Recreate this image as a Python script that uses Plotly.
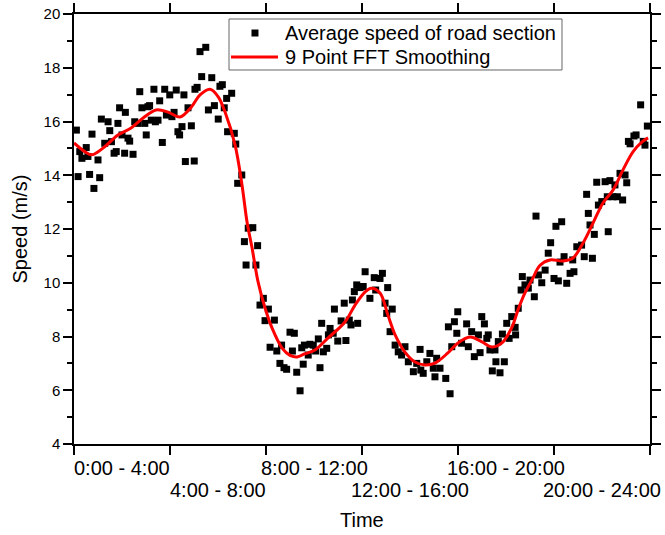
import plotly.graph_objects as go

# ---- data (hours of day, speed m/s) ----
hours = [0.1, 0.17, 0.24, 0.33, 0.51, 0.58, 0.65, 0.75, 0.83, 1.0, 1.07, 1.14, 1.28, 1.42, 1.49, 1.56,
         1.67, 1.76, 1.83, 1.9, 2.0, 2.11, 2.14, 2.25, 2.32, 2.46, 2.53, 2.67, 2.74, 2.83, 2.95, 3.01,
         3.08, 3.15, 3.22, 3.33, 3.39, 3.5, 3.57, 3.68, 3.78, 3.85, 3.99, 4.08, 4.17, 4.26, 4.33, 4.4,
         4.5, 4.58, 4.64, 4.75, 4.89,
         5.01, 5.04, 5.13, 5.25, 5.32, 5.49, 5.6, 5.74, 5.85, 6.01, 6.08, 6.18, 6.26, 6.36, 6.4, 6.57,
         6.68, 6.74, 6.82, 6.99, 7.1, 7.17, 7.26, 7.45, 7.58, 7.65, 7.75, 7.89, 7.96, 8.1, 8.17, 8.35,
         8.45, 8.58, 8.65, 8.75, 8.86, 9.0, 9.1, 9.18, 9.28, 9.42, 9.49, 9.55,
         9.6, 9.76, 9.83, 9.97, 10.07, 10.18, 10.25, 10.32, 10.39, 10.53, 10.6, 10.67, 10.8, 10.85,
         10.99, 11.13, 11.26, 11.33, 11.47, 11.54, 11.6, 11.68, 11.78, 11.82, 11.92, 12.05, 12.13,
         12.33, 12.51, 12.57, 12.75, 12.85, 12.96, 13.03, 13.07, 13.17, 13.26, 13.38, 13.51, 13.65,
         13.79, 13.93, 14.14,
         14.28, 14.42, 14.45, 14.55, 14.7, 14.83, 14.97, 15.04, 15.11, 15.25, 15.49, 15.6, 15.67,
         15.74, 15.85, 15.95, 15.99, 16.15, 16.36, 16.43, 16.57, 16.68, 16.85, 16.92, 16.99, 17.1,
         17.2, 17.26, 17.33, 17.43, 17.54, 17.58, 17.68, 17.75, 17.85, 17.93, 18.03, 18.13, 18.24,
         18.38, 18.4, 18.51, 18.63, 18.68, 18.79, 18.93, 19.0, 19.18, 19.35,
         19.25, 19.49, 19.63, 19.76, 19.86, 20.0, 20.08, 20.18, 20.25, 20.32, 20.42, 20.53, 20.67,
         20.78, 20.83, 20.95, 21.15, 21.26, 21.36, 21.43, 21.5, 21.6, 21.68, 21.78, 21.85, 21.99,
         22.13, 22.22, 22.26, 22.33, 22.45, 22.54, 22.64, 22.75, 22.86, 22.96, 23.03, 23.1, 23.17,
         23.33, 23.42, 23.61, 23.72, 23.79, 23.89]

speed = [15.68, 13.95, 14.88, 14.63, 15.03, 14.7, 14.03, 15.53, 13.51, 14.57, 13.91, 16.09, 15.19, 15.99, 15.66, 15.25,
         14.82, 14.88, 15.93, 16.51, 15.5, 14.82, 16.34, 15.38, 15.27, 14.78, 15.99, 15.93, 17.11, 16.51, 15.93, 15.5,
         16.55, 16.59, 16.05, 17.2, 15.99, 16.05, 16.77, 15.22, 17.2, 16.24, 16.99, 16.18, 16.34, 17.17, 15.62, 15.5,
         15.81, 16.99, 14.51, 16.51, 15.84,
         14.53, 17.2, 17.27, 18.6, 17.67, 18.76, 16.43, 17.63, 16.59, 16.09, 17.31, 17.37, 16.51, 16.86, 15.62, 17.05,
         15.56, 15.16, 13.7, 14.01, 11.53, 10.66, 12.03, 12.05, 10.66, 11.38, 9.17, 9.42, 8.59, 9.02, 7.6, 8.61,
         7.46, 7.0, 7.68, 6.84, 6.78, 8.16, 7.46, 8.12, 6.67, 5.98, 7.58, 6.97,
         7.68, 7.31, 7.71, 7.68, 7.46, 7.91, 6.84, 8.49, 7.43, 7.56, 8.06, 8.3, 8.12, 9.02,
         7.83, 8.58, 9.24, 7.85, 8.61, 8.43, 9.36, 9.67, 9.92, 8.49, 9.82, 9.86, 10.41,
         9.42, 10.19, 9.73, 10.16, 10.35, 9.24, 8.86, 9.82, 8.18, 9.02, 7.68, 7.43, 7.31,
         7.62, 7.06, 6.69,
         7.0, 7.52, 6.75, 6.63, 7.06, 7.37, 6.82, 6.5, 7.19, 6.82, 6.44, 8.36, 5.87,
         7.62, 8.55, 8.12, 8.92, 7.75, 8.47, 7.62, 8.18, 7.25, 8.06, 7.4, 8.74, 8.47,
         7.93, 8.06, 7.5, 6.72, 7.5, 7.06, 7.81, 6.65, 8.09, 7.06, 8.49, 7.93, 8.74,
         8.34, 8.06, 9.05, 9.73, 10.23, 9.92, 9.8, 10.1, 9.48, 10.29,
         12.48, 10.0, 10.47, 11.1, 11.49, 10.16, 12.1, 10.07, 10.77, 12.27, 10.97, 9.98, 10.35,
         10.85, 10.41, 11.34, 11.4, 10.97, 13.29, 12.58, 12.15, 10.91, 11.8, 13.74, 12.89, 13.02,
         13.76, 13.2, 11.9, 13.8, 13.2, 13.64, 13.2, 14.07, 13.08, 14.01, 13.72, 15.26, 15.17,
         15.46, 15.5, 16.62, 15.26, 15.12, 15.83]

smooth_hours = [0.0, 0.45, 0.75, 1.28, 1.83, 2.38, 2.88, 3.42, 3.92, 4.42, 4.9, 5.25, 5.67, 6.01, 6.29,
                6.71, 7.0, 7.21, 7.42, 7.67, 7.96, 8.25, 8.67, 9.0, 9.3, 9.6, 10.04, 10.58, 11.29,
                11.71, 12.13, 12.38, 12.75, 13.08, 13.38, 13.79, 14.21, 14.625, 15.04, 15.58, 16.0,
                16.5, 17.0, 17.42, 17.83, 18.25, 18.5, 18.79, 19.08, 19.42, 19.83, 20.375, 20.79,
                21.21, 21.625, 22.04, 22.46, 22.875, 23.29, 23.67, 23.92]
smooth_speed = [15.2, 14.88, 14.76, 15.06, 15.5, 15.76, 16.13, 16.43, 16.35, 16.17, 16.55, 16.99, 17.2, 16.92, 16.36,
                15.13, 13.64, 12.26, 11.29, 10.03, 9.06, 8.32, 7.57, 7.3, 7.24, 7.35, 7.5, 7.94, 8.54,
                9.17, 9.66, 9.8, 9.62, 8.8, 8.06, 7.42, 7.05, 6.94, 7.01, 7.39, 7.76,
                7.98, 7.8, 7.61, 7.76, 8.35, 8.99, 9.62, 10.1, 10.65, 10.85, 10.81, 10.92,
                11.48, 12.22, 12.97, 13.45, 14.2, 14.87, 15.24, 15.39]

period_centers = [2, 6, 10, 14, 18, 22]
period_labels = ["0:00 - 4:00", "4:00 - 8:00", "8:00 - 12:00", "12:00 - 16:00", "16:00 - 20:00", "20:00 - 24:00"]
period_bounds = [0, 4, 8, 12, 16, 20, 24]

series_names = ["Average speed of road section", "9 Point FFT Smoothing"]

FONT = "Liberation Sans, Arial, sans-serif"

fig = go.Figure()
fig.add_trace(go.Scatter(
    x=hours, y=speed, mode="markers", name=series_names[0], showlegend=False,
    marker=dict(symbol="square", size=7, color="black", line=dict(width=0)),
))
fig.add_trace(go.Scatter(
    x=smooth_hours, y=smooth_speed, mode="lines", name=series_names[1], showlegend=False,
    line=dict(color="#ff0000", width=3, shape="spline"),
))

# staggered period labels (two rows) below the x axis
for i, (c, lab) in enumerate(zip(period_centers, period_labels)):
    fig.add_annotation(
        x=c, xref="x", y=0, yref="paper", yanchor="top", xanchor="center",
        text=lab, showarrow=False, font=dict(size=20, family=FONT, color="black"),
        yshift=-11 if i % 2 == 0 else -33,
    )
fig.add_annotation(
    x=0.5, xref="paper", y=0, yref="paper", yanchor="top", xanchor="center",
    text="Time", showarrow=False, font=dict(size=20, family=FONT, color="black"),
    yshift=-63,
)

# legend box (Origin-style, compact)
LX0, LX1, LY0, LY1 = 0.2691, 0.8472, 0.8698, 0.9884
ROW1, ROW2 = 0.9558, 0.9
fig.add_shape(type="rect", xref="paper", yref="paper", x0=LX0, x1=LX1, y0=LY0, y1=LY1,
              line=dict(color="#666666", width=1), fillcolor="white", layer="above")
fig.add_shape(type="rect", xref="paper", yref="paper", xsizemode="pixel", ysizemode="pixel",
              xanchor=0.3142, yanchor=ROW1, x0=-3.5, x1=3.5, y0=-3.5, y1=3.5,
              line=dict(width=0), fillcolor="black", layer="above")
fig.add_shape(type="line", xref="paper", yref="paper", x0=0.2726, x1=0.3542, y0=ROW2, y1=ROW2,
              line=dict(color="#ff0000", width=3), layer="above")
for yy, name in zip([ROW1, ROW2], series_names):
    fig.add_annotation(x=0.3628, xref="paper", y=yy, yref="paper", xanchor="left", yanchor="middle",
                       text=name, showarrow=False, font=dict(size=20, family=FONT, color="black"))

fig.update_layout(
    width=665, height=535,
    margin=dict(l=74, r=15, t=14, b=91),
    paper_bgcolor="white", plot_bgcolor="white",
    font=dict(family=FONT, color="black"),
    showlegend=False,
    xaxis=dict(
        range=[0, 24], showgrid=False, zeroline=False, automargin=False,
        showline=True, linecolor="black", linewidth=1.5, mirror="ticks",
        tickmode="array", tickvals=period_bounds, showticklabels=False,
        ticks="outside", ticklen=9, tickwidth=1.5, tickcolor="black",
    ),
    yaxis=dict(
        range=[4, 20], showgrid=False, zeroline=False, automargin=False,
        showline=True, linecolor="black", linewidth=1.5, mirror="ticks",
        tickmode="linear", tick0=4, dtick=2,
        ticks="outside", ticklen=9, tickwidth=1.5, tickcolor="black",
        tickfont=dict(size=15, family=FONT),
        minor=dict(dtick=1, ticks="outside", ticklen=5, tickwidth=1.5, tickcolor="black", showgrid=False),
        title=dict(text="Speed (m/s)", font=dict(size=20, family=FONT), standoff=11),
    ),
)

fig.write_html("out.html", config={"displayModeBar": False},
               post_script="document.body.style.margin='0';document.body.style.overflow='hidden';")
